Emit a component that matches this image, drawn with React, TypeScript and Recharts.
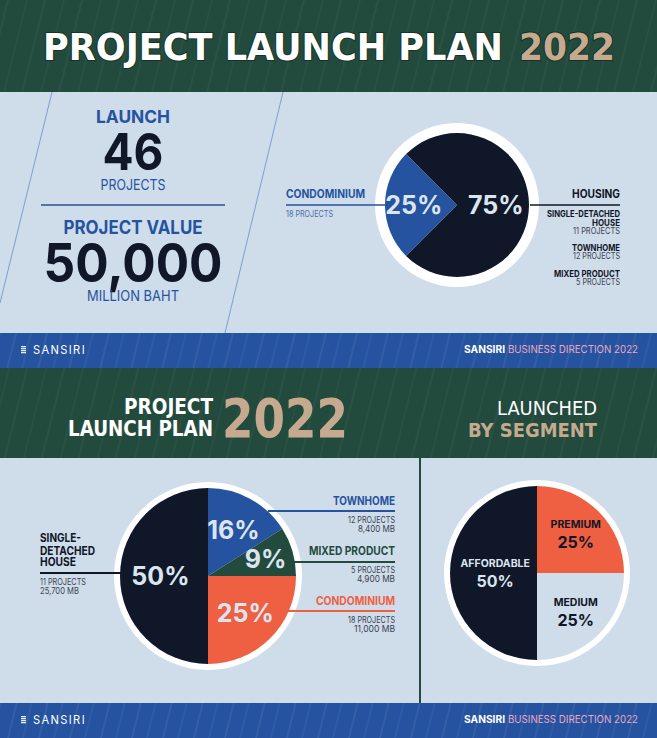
import React from "react";
import { PieChart, Pie, Cell } from "recharts";

// top chart: launch mix
const mixNames = ["CONDOMINIUM", "HOUSING"];
const mixValues = [25, 75];
const mixProjects = [18, 46 - 18];
const housingTypes = ["SINGLE-DETACHED HOUSE", "TOWNHOME", "MIXED PRODUCT"];
const housingProjects = [11, 12, 5];

// bottom-left chart: by product type
const typeNames = ["TOWNHOME", "MIXED PRODUCT", "CONDOMINIUM", "SINGLE-DETACHED HOUSE"];
const typeValues = [16, 9, 25, 50];
const typeProjects = [12, 5, 18, 11];
const typeMB = ["8,400", "4,900", "11,000", "25,700"];

// bottom-right chart: by segment
const segmentNames = ["PREMIUM", "MEDIUM", "AFFORDABLE"];
const segmentValues = [25, 25, 50];

const launchProjects = "46";
const projectValue = "50,000";

const C = {
  green: "#224b3e",
  light: "#cfdce9",
  blue: "#2553a0",
  navy: "#0f1728",
  tan: "#c6aa90",
  coral: "#ef5f41",
  pink: "#eaa9c1",
  gray: "#3a4252",
  sky: "#7c9ed2",
  pale: "#dbe5ef",
};

const mixColors = [C.blue, C.navy];
const typeColors = [C.blue, C.green, C.coral, C.navy];
const segColors = [C.coral, C.light, C.navy];

const FONT = "Inter, 'Noto Sans', sans-serif";
const COND = "'Liberation Sans Narrow', 'DejaVu Sans Condensed', Roboto, sans-serif";

const mixData = mixNames.map((n, i) => ({ name: n, value: mixValues[i] }));
const typeData = typeNames.map((n, i) => ({ name: n, value: typeValues[i] }));
const segData = segmentNames.map((n, i) => ({ name: n, value: segmentValues[i] }));

const T = (p: any) => (
  <text
    x={p.x}
    y={p.y}
    fontSize={p.size}
    fontWeight={p.weight ?? 700}
    fill={p.fill ?? C.navy}
    textAnchor={p.anchor ?? "start"}
    fontFamily={p.family ?? FONT}
    letterSpacing={p.ls}
    textLength={p.len}
    lengthAdjust={p.len ? "spacingAndGlyphs" : undefined}
    stroke={p.stroke}
    strokeWidth={p.sw}
    paintOrder={p.stroke ? "stroke" : undefined}
  >
    {p.children}
  </text>
);

const RAD = Math.PI / 180;
const pos = (props: any, k: number) => {
  const { cx, cy, midAngle, outerRadius } = props;
  const r = outerRadius * k;
  return { x: cx + r * Math.cos(-midAngle * RAD), y: cy + r * Math.sin(-midAngle * RAD) };
};

const pctLabel = (props: any) => {
  const k = props.percent >= 0.5 ? 0.54 : props.percent < 0.1 ? 0.68 : 0.6;
  const { x, y } = pos(props, k);
  return (
    <text x={x} y={y + 9} textAnchor="middle" fontSize={25} fontWeight={700} fill={C.pale} fontFamily={FONT}>
      {`${props.value}%`}
    </text>
  );
};

const segLabel = (props: any) => {
  const k = props.percent >= 0.5 ? 0.48 : 0.63;
  const { x, y } = pos(props, k);
  const fill = props.index === 2 ? C.pale : C.navy;
  return (
    <g>
      <text x={x} y={y - 6} textAnchor="middle" fontSize={10.5} fontWeight={700} fill={fill} fontFamily={FONT}>
        {props.name}
      </text>
      <text x={x} y={y + 14} textAnchor="middle" fontSize={16} fontWeight={700} fill={fill} fontFamily={FONT}>
        {`${props.value}%`}
      </text>
    </g>
  );
};

const Footer = ({ y }: { y: number }) => (
  <g>
    <rect x={0} y={y} width={657} height={35} fill={C.blue} />
    <rect x={0} y={y} width={657} height={35} fill="url(#blueLines)" />
    {[0, 2, 4, 6].map((d) => (
      <rect key={d} x={21} y={y + 13 + d} width={5} height={1.3} fill="#e6ecf5" />
    ))}
    <T x={33} y={y + 21} size={12} weight={400} fill="#fff" ls={1.5} len={53}>SANSIRI</T>
    <T x={464} y={y + 20} size={10.5} fill="#fff" len={41}>SANSIRI</T>
    <T x={508} y={y + 20} size={10.5} weight={400} fill={C.pink} len={130}>BUSINESS DIRECTION 2022</T>
  </g>
);

const Background = () => (
  <svg width={657} height={738} style={{ position: "absolute", left: 0, top: 0 }}>
    <defs>
      <pattern id="greenLines" width="37" height="60" patternUnits="userSpaceOnUse" patternTransform="skewX(-14)">
        <line x1="8" y1="0" x2="8" y2="60" stroke="#ffffff" strokeOpacity={0.07} />
        <line x1="27" y1="0" x2="27" y2="60" stroke="#ffffff" strokeOpacity={0.05} />
      </pattern>
      <pattern id="blueLines" width="31" height="40" patternUnits="userSpaceOnUse" patternTransform="skewX(-14)">
        <line x1="6" y1="0" x2="6" y2="40" stroke="#ffffff" strokeOpacity={0.13} />
        <line x1="21" y1="0" x2="21" y2="40" stroke="#ffffff" strokeOpacity={0.09} />
      </pattern>
    </defs>

    {/* header */}
    <rect x={0} y={0} width={657} height={92} fill={C.green} />
    <rect x={0} y={0} width={657} height={92} fill="url(#greenLines)" />
    <T x={43} y={60} size={37} fill="#fff" family={COND} len={460} stroke="#173328" sw={2}>PROJECT LAUNCH PLAN</T>
    <T x={519} y={60} size={37} fill={C.tan} family={COND} len={96} stroke="#173328" sw={2}>2022</T>

    {/* top panel */}
    <rect x={0} y={92} width={657} height={241} fill={C.light} />
    <line x1={52} y1={92} x2={0} y2={303} stroke={C.sky} strokeWidth={1} />
    <line x1={283} y1={92} x2={225} y2={333} stroke={C.sky} strokeWidth={1} />

    <T x={133} y={123} size={18} fill={C.blue} anchor="middle" len={74}>LAUNCH</T>
    <T x={133} y={170} size={51} anchor="middle" len={61}>{launchProjects}</T>
    <T x={133} y={190} size={15} weight={400} fill={C.blue} anchor="middle" len={65}>PROJECTS</T>
    <line x1={41} y1={205} x2={225} y2={205} stroke={C.blue} strokeWidth={1.5} />
    <T x={133} y={234} size={19} fill={C.blue} anchor="middle" len={139}>PROJECT VALUE</T>
    <T x={133} y={282} size={54} anchor="middle" len={179}>{projectValue}</T>
    <T x={133} y={301} size={15} weight={400} fill={C.blue} anchor="middle" len={92}>MILLION BAHT</T>

    <circle cx={457} cy={205} r={82} fill="#fff" />
    <line x1={286} y1={205} x2={385} y2={205} stroke={C.blue} strokeWidth={1.5} />
    <T x={286} y={198} size={11.5} fill={C.blue} len={79}>{mixNames[0]}</T>
    <T x={286} y={217} size={9} weight={400} fill="#4a6fae" len={47}>{`${mixProjects[0]} PROJECTS`}</T>
    <line x1={530} y1={205} x2={620} y2={205} stroke={C.navy} strokeWidth={1.5} />
    <T x={620} y={198} size={11.5} anchor="end" len={48}>{mixNames[1]}</T>
    <T x={620} y={217} size={9} anchor="end" len={73}>SINGLE-DETACHED</T>
    <T x={620} y={225.5} size={9} anchor="end" len={28}>HOUSE</T>
    <T x={620} y={234} size={9} weight={400} fill={C.gray} anchor="end" len={47}>{`${housingProjects[0]} PROJECTS`}</T>
    <T x={620} y={251} size={9} anchor="end" len={48}>{housingTypes[1]}</T>
    <T x={620} y={259} size={9} weight={400} fill={C.gray} anchor="end" len={47}>{`${housingProjects[1]} PROJECTS`}</T>
    <T x={620} y={277} size={9} anchor="end" len={66}>{housingTypes[2]}</T>
    <T x={620} y={285} size={9} weight={400} fill={C.gray} anchor="end" len={44}>{`${housingProjects[2]} PROJECTS`}</T>

    <Footer y={333} />

    {/* second header */}
    <rect x={0} y={368} width={657} height={90} fill={C.green} />
    <rect x={0} y={368} width={657} height={90} fill="url(#greenLines)" />
    <T x={213} y={414} size={21} fill="#fff" anchor="end" family={COND} len={89}>PROJECT</T>
    <T x={213} y={436} size={21} fill="#fff" anchor="end" family={COND} len={145}>LAUNCH PLAN</T>
    <T x={222} y={437} size={54} fill={C.tan} family={COND} len={126}>2022</T>
    <T x={597} y={415} size={20} weight={400} fill="#fff" anchor="end" family={COND} len={100}>LAUNCHED</T>
    <T x={597} y={437} size={20} fill={C.tan} anchor="end" family={COND} len={129}>BY SEGMENT</T>

    {/* bottom panel */}
    <rect x={0} y={458} width={657} height={245} fill={C.light} />
    <line x1={420} y1={458} x2={420} y2={703} stroke={C.green} strokeWidth={2} />

    <circle cx={208} cy={576} r={94} fill="#fff" />
    <circle cx={537} cy={573} r={93} fill="#fff" />

    <line x1={268} y1={511} x2={395} y2={511} stroke={C.blue} strokeWidth={1.8} />
    <T x={395} y={505} size={11.5} fill={C.blue} anchor="end" len={62}>{typeNames[0]}</T>
    <T x={395} y={523} size={9} weight={400} fill={C.gray} anchor="end" len={47}>{`${typeProjects[0]} PROJECTS`}</T>
    <T x={395} y={531.5} size={9} weight={400} fill={C.gray} anchor="end" len={37}>{`${typeMB[0]} MB`}</T>

    <line x1={292} y1={562} x2={395} y2={562} stroke={C.green} strokeWidth={1.8} />
    <T x={395} y={555} size={11.5} fill={C.green} anchor="end" len={86}>{typeNames[1]}</T>
    <T x={395} y={573} size={9} weight={400} fill={C.gray} anchor="end" len={44}>{`${typeProjects[1]} PROJECTS`}</T>
    <T x={395} y={581.5} size={9} weight={400} fill={C.gray} anchor="end" len={38}>{`${typeMB[1]} MB`}</T>

    <line x1={287} y1={611} x2={395} y2={611} stroke={C.coral} strokeWidth={1.8} />
    <T x={395} y={605} size={11.5} fill={C.coral} anchor="end" len={79}>{typeNames[2]}</T>
    <T x={395} y={623} size={9} weight={400} fill={C.gray} anchor="end" len={47}>{`${typeProjects[2]} PROJECTS`}</T>
    <T x={395} y={631.5} size={9} weight={400} fill={C.gray} anchor="end" len={41}>{`${typeMB[2]} MB`}</T>

    <line x1={40} y1={573} x2={122} y2={573} stroke={C.navy} strokeWidth={1.8} />
    <T x={40} y={542} size={12} len={41}>SINGLE-</T>
    <T x={40} y={555} size={12} len={55}>DETACHED</T>
    <T x={40} y={566} size={12} len={36}>HOUSE</T>
    <T x={40} y={585} size={9} weight={400} fill={C.gray} len={46}>{`${typeProjects[3]} PROJECTS`}</T>
    <T x={40} y={593.5} size={9} weight={400} fill={C.gray} len={39}>{`${typeMB[3]} MB`}</T>

    <Footer y={703} />
  </svg>
);

export default function App() {
  return (
    <div style={{ position: "absolute", left: 0, top: 0, width: 657, height: 738, overflow: "hidden" }}>
      <Background />
      <div style={{ position: "absolute", left: 0, top: 0 }}>
        <PieChart width={657} height={738} margin={{ top: 0, right: 0, bottom: 0, left: 0 }}>
          <Pie
            data={mixData}
            dataKey="value"
            nameKey="name"
            cx={457}
            cy={205}
            outerRadius={72}
            startAngle={225}
            endAngle={-135}
            stroke="none"
            label={pctLabel}
            labelLine={false}
            isAnimationActive={false}
          >
            {mixData.map((d, i) => (
              <Cell key={d.name} fill={mixColors[i]} />
            ))}
          </Pie>
          <Pie
            data={typeData}
            dataKey="value"
            nameKey="name"
            cx={208}
            cy={576}
            outerRadius={88}
            startAngle={90}
            endAngle={-270}
            stroke="none"
            label={pctLabel}
            labelLine={false}
            isAnimationActive={false}
          >
            {typeData.map((d, i) => (
              <Cell key={d.name} fill={typeColors[i]} />
            ))}
          </Pie>
          <Pie
            data={segData}
            dataKey="value"
            nameKey="name"
            cx={537}
            cy={573}
            outerRadius={87}
            startAngle={90}
            endAngle={-270}
            stroke="none"
            label={segLabel}
            labelLine={false}
            isAnimationActive={false}
          >
            {segData.map((d, i) => (
              <Cell key={d.name} fill={segColors[i]} />
            ))}
          </Pie>
        </PieChart>
      </div>
    </div>
  );
}
